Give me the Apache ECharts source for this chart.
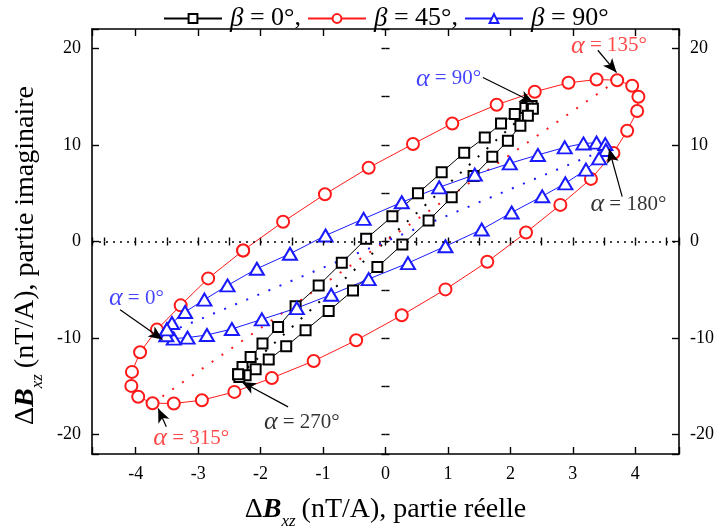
<!DOCTYPE html>
<html><head><meta charset="utf-8">
<script src="https://cdn.jsdelivr.net/npm/echarts@6/dist/echarts.min.js"></script>
<style>html,body{margin:0;padding:0;background:#fff}#c{width:717px;height:531px}</style>
</head><body><div id="c"></div>
<script>
// ---- data (real part, imaginary part) ----
const beta0Re = [-2.36,-2.29,-2.16,-1.97,-1.72,-1.44,-1.07,-0.70,-0.31,0.11,0.52,0.90,1.26,1.59,1.85,2.07,2.24,2.34,2.36,2.28,2.16,1.96,1.71,1.41,1.06,0.69,0.27,-0.13,-0.52,-0.91,-1.28,-1.59,-1.87,-2.08,-2.24,-2.34];
const beta0Im = [-13.74,-12.99,-11.95,-10.57,-8.85,-6.71,-4.55,-2.20,0.28,2.61,4.99,7.16,9.19,10.77,12.22,13.19,13.81,14.02,13.74,13.02,11.98,10.43,8.78,6.79,4.58,2.17,-0.31,-2.65,-5.06,-7.20,-9.19,-10.85,-12.22,-13.22,-13.84,-14.02];
const beta45Re = [-2.28,-1.64,-0.97,-0.27,0.44,1.07,1.78,2.39,2.93,3.38,3.71,3.95,4.05,4.03,3.87,3.65,3.29,2.80,2.25,1.63,0.96,0.26,-0.47,-1.15,-1.82,-2.42,-2.94,-3.39,-3.73,-3.96,-4.07,-4.06,-3.93,-3.66,-3.28,-2.84];
const beta45Im = [-0.93,2.04,4.89,7.64,10.09,12.22,14.15,15.50,16.43,16.77,16.70,16.12,14.98,13.51,11.47,9.17,6.48,3.79,0.93,-2.10,-4.96,-7.64,-10.23,-12.37,-14.13,-15.57,-16.43,-16.77,-16.74,-16.08,-14.95,-13.50,-11.47,-9.12,-6.61,-3.82];
const beta90Re = [-3.50,-3.42,-3.21,-2.90,-2.53,-2.06,-1.53,-0.96,-0.35,0.26,0.86,1.43,1.99,2.44,2.87,3.17,3.38,3.52,3.53,3.42,3.21,2.88,2.51,2.02,1.54,0.96,0.36,-0.27,-0.87,-1.42,-1.98,-2.46,-2.86,-3.17,-3.39,-3.51];
const beta90Im = [-9.09,-8.44,-7.30,-6.02,-4.55,-2.82,-1.27,0.62,2.35,4.06,5.61,6.92,8.09,8.96,9.74,10.15,10.23,10.09,9.47,8.61,7.44,6.02,4.68,3.00,1.24,-0.49,-2.24,-3.89,-5.51,-6.89,-8.06,-9.06,-9.68,-9.95,-10.05,-9.71];
// major-axis dotted segments
const axis0Re = [-2.35, 2.35],  axis0Im = [-13.9, 13.9];
const axis45Re = [-3.73, 3.71], axis45Im = [-16.74, 16.70];
const axis90Re = [-3.47, 3.47], axis90Im = [-9.4, 9.4];
// annotations
const annText = ['0°','90°','135°','180°','270°','315°'];
const annRe = [-3.99, 1.01, 3.58, 3.89, -1.34, -3.11];
const annIm = [-5.89, 16.84, 20.25, 3.82, -18.70, -20.35];
const arrowFromRe = [-4.25, 1.56, 3.40, 3.79, -1.56, -3.51];
const arrowFromIm = [-7.06, 16.97, 19.8, 4.65, -17.12, -19.18];
const arrowToRe = [-3.57, 2.37, 3.70, 3.58, -2.30, -3.64];
const arrowToIm = [-10.15, 14.39, 17.49, 9.58, -14.54, -17.28];
const seriesNames = ['β = 0°','β = 45°','β = 90°'];
const xTicks = [-4,-3,-2,-1,0,1,2,3,4];
const yTicks = [-20,-10,0,10,20];

// ---- build ----
const SERIF = '"Liberation Serif","Times New Roman",serif';
const annColors = ['#1515ff','#1515ff','#ff1a1a','#000','#000','#ff1a1a'];
function zip(a, b, close) { const r = a.map((v, i) => [v, b[i]]); if (close) r.push(r[0]); return r; }

const chart = echarts.init(document.getElementById('c'), null, {renderer: 'canvas'});
const xMin = -4.7, xMax = 4.7, yMin = -22, yMax = 22;
const lineAx = {show: true, onZero: false, lineStyle: {color: '#000', width: 1.6}};
const noLine = {show: false};
const xLab = {show: true, fontFamily: SERIF, fontSize: 18, color: '#000', margin: 11,
  formatter: v => xTicks.some(t => Math.abs(t - v) < 1e-6) ? String(Math.round(v)) : ''};
const yLab = {show: true, fontFamily: SERIF, fontSize: 18, color: '#000', margin: 11,
  formatter: v => yTicks.some(t => Math.abs(t - v) < 1e-6) ? String(Math.round(v)) : ''};
function xAx(pos, major, show) {
  return {type: 'value', position: pos, min: xMin, max: xMax,
    minInterval: major ? 1 : 0.5, maxInterval: major ? 1 : 0.5,
    axisLine: show ? lineAx : noLine,
    axisTick: {show: true, inside: true, length: major ? 7 : 4, lineStyle: {color: '#000', width: 1.4}},
    axisLabel: (pos === 'bottom' && major) ? xLab : {show: false},
    splitLine: {show: false}};
}
function yAx(pos, major, show) {
  return {type: 'value', position: pos, min: yMin, max: yMax,
    minInterval: major ? 10 : 5, maxInterval: major ? 10 : 5,
    axisLine: show ? lineAx : noLine,
    axisTick: {show: true, inside: true, length: major ? 7 : 4, lineStyle: {color: '#000', width: 1.4}},
    axisLabel: major ? yLab : {show: false},
    splitLine: {show: false}};
}
const xAxes = [xAx('bottom', true, true), xAx('bottom', false, false), xAx('top', true, true), xAx('top', false, false)];
const yAxes = [yAx('left', true, true), yAx('left', false, false), yAx('right', true, true), yAx('right', false, false)];
function nameRich(tailPad) {
  return {
    d: {fontFamily: SERIF, fontSize: 28, color: '#000', lineHeight: 40},
    e: {fontFamily: SERIF, fontSize: 28, color: '#000', lineHeight: 40, padding: [0, tailPad, 0, 0]},
    b: {fontFamily: SERIF, fontSize: 28, color: '#000', fontWeight: 'bold', fontStyle: 'italic', lineHeight: 40},
    s: {fontFamily: SERIF, fontSize: 17, color: '#000', fontStyle: 'italic', lineHeight: 17, verticalAlign: 'bottom', padding: [0, 6, 0, 0]}
  };
}
xAxes[0].name = '{d|Δ}{b|B}{s|xz}{e|(nT/A), partie réelle}';
xAxes[0].nameLocation = 'middle'; xAxes[0].nameGap = 36;
xAxes[0].nameTextStyle = {rich: nameRich(0)};
yAxes[0].name = '{d|Δ}{b|B}{s|xz}{e|(nT/A), partie imaginaire}';
yAxes[0].nameLocation = 'middle'; yAxes[0].nameGap = 34; yAxes[0].nameRotate = 90;
yAxes[0].nameTextStyle = {rich: nameRich(28)};

const mainCfg = [
  {re: beta0Re, im: beta0Im, sym: 'emptyRect', size: 10, color: '#000'},
  {re: beta45Re, im: beta45Im, sym: 'emptyCircle', size: 12, color: '#ff1a1a'},
  {re: beta90Re, im: beta90Im, sym: 'emptyTriangle', size: [14, 12], color: '#1a1aff'}
];
const dotCfg = [
  {re: axis0Re, im: axis0Im, color: '#000'},
  {re: axis45Re, im: axis45Im, color: '#ff1a1a'},
  {re: axis90Re, im: axis90Im, color: '#1a1aff'}
];
const series = [];
dotCfg.forEach((d, i) => series.push({
  name: 'axis' + i, type: 'line', data: zip(d.re, d.im, false), symbol: 'none', silent: true,
  lineStyle: {color: d.color, width: 2, type: [2, 10]}, z: 1
}));
series.push({
  name: 'zero', type: 'line', data: [], silent: true,
  markLine: {silent: true, symbol: 'none', label: {show: false},
    lineStyle: {color: '#000', width: 1.6, type: [2, 5]}, data: [{yAxis: 0}]}
});
mainCfg.forEach((m, i) => series.push({
  name: seriesNames[i], type: 'line', data: zip(m.re, m.im, true),
  symbol: m.sym, symbolSize: m.size, showAllSymbol: true,
  itemStyle: {color: m.color, borderWidth: 1.2},
  lineStyle: {color: m.color, width: 1}, z: 3
}));
series.push({
  name: 'ann', type: 'scatter', symbolSize: 1, itemStyle: {color: 'rgba(0,0,0,0)'}, z: 5, silent: true,
  data: annText.map((t, i) => ({
    value: [annRe[i], annIm[i]],
    label: {show: true, position: 'inside', formatter: '{a|α}{t| = ' + t + '}',
      rich: {a: {fontFamily: SERIF, fontSize: 26, fontStyle: 'italic', color: annColors[i]},
             t: {fontFamily: SERIF, fontSize: 21, color: annColors[i]}}}
  })),
  markLine: {silent: true, symbol: ['none', 'arrow'], symbolSize: [9, 14], label: {show: false},
    lineStyle: {color: '#000', width: 1.2, type: 'solid'},
    data: arrowFromRe.map((v, i) => [{coord: [v, arrowFromIm[i]]}, {coord: [arrowToRe[i], arrowToIm[i]]}])}
});

chart.setOption({
  animation: false,
  backgroundColor: '#fff',
  grid: {left: 92, right: 38, top: 29, bottom: 77, containLabel: false, outerBoundsMode: 'none'},
  xAxis: xAxes,
  yAxis: yAxes,
  legend: {
    data: seriesNames, top: 0, left: 158, itemWidth: 58, itemHeight: 11, itemGap: 6,
    formatter: n => '{i|β}{t| = ' + n.split('= ')[1] + (n === seriesNames[2] ? '' : ',') + '}',
    textStyle: {rich: {i: {fontFamily: SERIF, fontSize: 27, fontStyle: 'italic', color: '#000', padding: [0, 0, 0, 3]},
                       t: {fontFamily: SERIF, fontSize: 26, color: '#000'}}}
  },
  series: series
});
</script></body></html>
